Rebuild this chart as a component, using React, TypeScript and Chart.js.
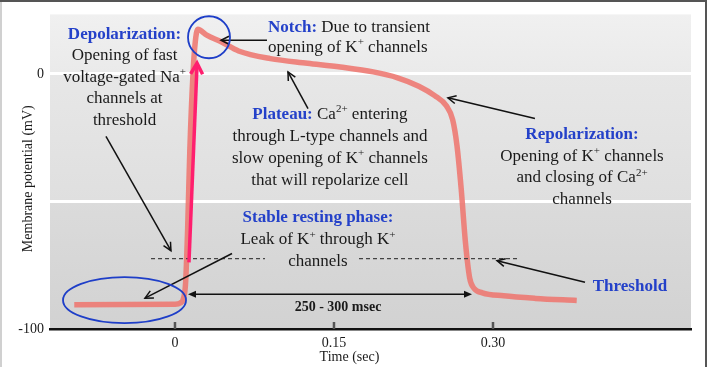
import React, { useEffect, useRef } from "react";
import { Chart, registerables } from "chart.js";

Chart.register(...registerables);

// ---------- data ----------
const timeSec = [
  -0.095, 0.0, 0.005, 0.008, 0.01, 0.012, 0.014, 0.017, 0.019, 0.0215, 0.03, 0.044, 0.06, 0.09, 0.125,
  0.156, 0.187, 0.21, 0.23, 0.245, 0.256, 0.262, 0.266, 0.27, 0.274, 0.278, 0.282, 0.29, 0.31, 0.34, 0.379,
];
const potentialMv = [
  -90.5, -90.3, -89.8, -88, -82, -60, -30, 0, 12, 17.5, 15.2, 12.5, 9, 6, 4.2,
  2.7, 0.8, -1.5, -4.8, -8.5, -12.5, -18, -28, -45, -66, -80, -84, -85.8, -87, -88, -88.8,
];
const xTickValues = [0, 0.15, 0.3];
const xTickLabels = ["0", "0.15", "0.30"];
const yTickValues = [-100, -50, 0];
const yTickLabels = ["-100", "", "0"];
const xRange = [-0.1179, 0.4868];
const yRange = [-100, 23.35];
const xAxisTitle = "Time (sec)";
const yAxisTitle = "Membrane potential (mV)";
const thresholdMv = -72.4;
const restingDurationLabel = "250 - 300 msec";

// ---------- styles ----------
const FONT = '"Liberation Serif", "Times New Roman", serif';
const BLUE = "#2441c9";
const TEXT = "#1a1a1a";

type Seg = { t: string; b?: boolean; sup?: boolean; blue?: boolean };
type Note = { at: [number, number]; align: "center" | "left"; lh: number; size: number; lines: Seg[][] };

const notes: Note[] = [
  {
    at: [-0.0476, 15.56], align: "center", lh: 21.5, size: 17,
    lines: [
      [{ t: "Depolarization:", b: true, blue: true }],
      [{ t: "Opening of fast" }],
      [{ t: "voltage-gated Na" }, { t: "+", sup: true }],
      [{ t: "channels at" }],
      [{ t: "threshold" }],
    ],
  },
  {
    at: [0.0877, 18.3], align: "left", lh: 20, size: 17,
    lines: [
      [{ t: "Notch:", b: true, blue: true }, { t: " Due to transient" }],
      [{ t: "opening of K" }, { t: "+", sup: true }, { t: " channels" }],
    ],
  },
  {
    at: [0.1462, -15.95], align: "center", lh: 22, size: 17,
    lines: [
      [{ t: "Plateau:", b: true, blue: true }, { t: " Ca" }, { t: "2+", sup: true }, { t: " entering" }],
      [{ t: "through L-type channels and" }],
      [{ t: "slow opening of K" }, { t: "+", sup: true }, { t: " channels" }],
      [{ t: "that will repolarize cell" }],
    ],
  },
  {
    at: [0.384, -23.7], align: "center", lh: 21.7, size: 17,
    lines: [
      [{ t: "Repolarization:", b: true, blue: true }],
      [{ t: "Opening of K" }, { t: "+", sup: true }, { t: " channels" }],
      [{ t: "and closing of Ca" }, { t: "2+", sup: true }],
      [{ t: "channels" }],
    ],
  },
  {
    at: [0.1349, -56.4], align: "center", lh: 22, size: 17,
    lines: [
      [{ t: "Stable resting phase:", b: true, blue: true }],
      [{ t: "Leak of K" }, { t: "+", sup: true }, { t: " through K" }, { t: "+", sup: true }],
      [{ t: "channels" }],
    ],
  },
  {
    at: [0.4292, -83.3], align: "center", lh: 20, size: 17,
    lines: [[{ t: "Threshold", b: true, blue: true }]],
  },
  {
    at: [0.1538, -91.4], align: "center", lh: 16, size: 14,
    lines: [[{ t: restingDurationLabel, b: true }]],
  },
];

// arrows: from -> to (data coords)
const pointerArrows: [number, number, number, number][] = [
  [-0.0651, -24.5, -0.0038, -69.3],
  [0.0868, 13.2, 0.0434, 13.2],
  [0.1255, -13.6, 0.1066, 0.78],
  [0.3396, -17.5, 0.2575, -9.34],
  [0.0538, -70.4, -0.0283, -87.9],
  [0.3868, -81.7, 0.3038, -73.2],
];
const durationArrow: [number, number, number] = [0.0123, 0.2802, -86.4];
const upstrokeArrow: [number, number, number, number] = [0.0132, -73.9, 0.0208, 4.28];
const thresholdSegments: [number, number][] = [
  [-0.0226, 0.0849],
  [0.1736, 0.3245],
];
const ellipses: { c: [number, number]; rx: number; ry: number }[] = [
  { c: [0.0321, 14.4], rx: 21, ry: 21 },
  { c: [-0.0476, -88.7], rx: 61.5, ry: 23 },
];

function drawRich(ctx: CanvasRenderingContext2D, line: Seg[], x: number, y: number, align: string, size: number) {
  const parts = line.map((s) => {
    const fs = s.sup ? Math.round(size * 0.66) : size;
    const font = `${s.b ? "bold " : ""}${fs}px ${FONT}`;
    ctx.font = font;
    return { s, font, w: ctx.measureText(s.t).width };
  });
  const total = parts.reduce((a, p) => a + p.w, 0);
  let cx = align === "center" ? x - total / 2 : x;
  ctx.textBaseline = "middle";
  ctx.textAlign = "left";
  for (const p of parts) {
    ctx.font = p.font;
    ctx.fillStyle = p.s.blue ? BLUE : TEXT;
    ctx.fillText(p.s.t, cx, p.s.sup ? y - size * 0.3 : y);
    cx += p.w;
  }
}

function arrowHead(ctx: CanvasRenderingContext2D, x1: number, y1: number, x2: number, y2: number, len: number, spread: number, filled: boolean) {
  const a = Math.atan2(y2 - y1, x2 - x1);
  const bx = x2 - len * Math.cos(a);
  const by = y2 - len * Math.sin(a);
  const px = spread * Math.sin(a);
  const py = -spread * Math.cos(a);
  ctx.beginPath();
  ctx.moveTo(bx + px, by + py);
  ctx.lineTo(x2, y2);
  ctx.lineTo(bx - px, by - py);
  if (filled) {
    ctx.closePath();
    ctx.fill();
  } else {
    ctx.stroke();
  }
}

const backgroundPlugin = {
  id: "bands",
  beforeDraw(chart: any) {
    const { ctx, chartArea: ca, scales } = chart;
    const ys = scales.y;
    ctx.save();
    ctx.fillStyle = "#ffffff";
    ctx.fillRect(0, 0, chart.width, chart.height);
    const y0 = ys.getPixelForValue(0);
    const y50 = ys.getPixelForValue(-50);
    const bands: [number, number, string, string][] = [
      [ca.top, y0, "#f0f0f0", "#eaeaea"],
      [y0, y50, "#e7e7e7", "#dfdfdf"],
      [y50, ca.bottom, "#dbdbdb", "#d2d2d2"],
    ];
    for (const [a, b, c1, c2] of bands) {
      const g = ctx.createLinearGradient(0, a, 0, b);
      g.addColorStop(0, c1);
      g.addColorStop(1, c2);
      ctx.fillStyle = g;
      ctx.fillRect(ca.left, a, ca.right - ca.left, b - a);
    }
    ctx.restore();
  },
  afterDatasetsDraw(chart: any) {
    const { ctx, chartArea: ca, scales } = chart;
    const xs = scales.x;
    const ys = scales.y;
    const P = (t: number, v: number) => [xs.getPixelForValue(t), ys.getPixelForValue(v)];
    ctx.save();

    // upward tick marks on x axis
    ctx.fillStyle = "#555";
    for (const v of xTickValues) {
      const px = xs.getPixelForValue(v);
      ctx.fillRect(px - 1.25, ca.bottom - 7, 2.5, 7);
    }

    // threshold dashed line
    ctx.strokeStyle = "#444";
    ctx.lineWidth = 1.2;
    ctx.setLineDash([4, 3]);
    const ty = ys.getPixelForValue(thresholdMv);
    for (const [a, b] of thresholdSegments) {
      ctx.beginPath();
      ctx.moveTo(xs.getPixelForValue(a), ty);
      ctx.lineTo(xs.getPixelForValue(b), ty);
      ctx.stroke();
    }
    ctx.setLineDash([]);

    // upstroke pink arrow
    {
      const [x1, y1] = P(upstrokeArrow[0], upstrokeArrow[1]);
      const [x2, y2] = P(upstrokeArrow[2], upstrokeArrow[3]);
      ctx.strokeStyle = "#ff1f6e";
      ctx.lineWidth = 3.5;
      ctx.lineCap = "butt";
      ctx.beginPath();
      ctx.moveTo(x1, y1);
      ctx.lineTo(x2, y2 + 2);
      ctx.stroke();
      ctx.lineJoin = "miter";
      arrowHead(ctx, x1, y1, x2, y2, 11, 6, false);
    }

    // pointer arrows
    ctx.strokeStyle = "#111";
    ctx.fillStyle = "#111";
    ctx.lineWidth = 1.5;
    for (const [t1, v1, t2, v2] of pointerArrows) {
      const [x1, y1] = P(t1, v1);
      const [x2, y2] = P(t2, v2);
      ctx.beginPath();
      ctx.moveTo(x1, y1);
      ctx.lineTo(x2, y2);
      ctx.stroke();
      arrowHead(ctx, x1, y1, x2, y2, 8, 4, false);
    }

    // duration double arrow
    {
      const [xa, yy] = P(durationArrow[0], durationArrow[2]);
      const [xb] = P(durationArrow[1], durationArrow[2]);
      ctx.lineWidth = 1.5;
      ctx.beginPath();
      ctx.moveTo(xa + 4, yy);
      ctx.lineTo(xb - 4, yy);
      ctx.stroke();
      arrowHead(ctx, xb, yy, xa, yy, 8, 3.5, true);
      arrowHead(ctx, xa, yy, xb, yy, 8, 3.5, true);
    }

    // ellipses
    ctx.strokeStyle = "#1e3ec8";
    ctx.lineWidth = 1.8;
    for (const e of ellipses) {
      const [cx, cy] = P(e.c[0], e.c[1]);
      ctx.beginPath();
      ctx.ellipse(cx, cy, e.rx, e.ry, 0, 0, Math.PI * 2);
      ctx.stroke();
    }

    // text notes
    for (const n of notes) {
      const [x, y] = P(n.at[0], n.at[1]);
      n.lines.forEach((line, i) => drawRich(ctx, line, x, y + i * n.lh, n.align, n.size));
    }

    ctx.restore();
  },
  afterDraw(chart: any) {
    const { ctx, chartArea: ca } = chart;
    ctx.save();
    // axis titles
    ctx.fillStyle = TEXT;
    ctx.font = `14px ${FONT}`;
    ctx.textAlign = "center";
    ctx.textBaseline = "middle";
    ctx.fillText(xAxisTitle, (ca.left + ca.right) / 2 - 21, 357);
    ctx.translate(28.5, (ca.top + ca.bottom) / 2 + 7);
    ctx.rotate(-Math.PI / 2);
    ctx.fillText(yAxisTitle, 0, 0);
    ctx.restore();
    // frame
    ctx.save();
    ctx.fillStyle = "#d0d0d0";
    ctx.fillRect(0, 0, 2, chart.height);
    ctx.fillStyle = "#555";
    ctx.fillRect(0, 0, chart.width, 2);
    ctx.fillRect(chart.width - 2, 0, 2, chart.height);
    ctx.restore();
  },
};

export default function App() {
  const ref = useRef<HTMLCanvasElement>(null);
  useEffect(() => {
    const chart = new Chart(ref.current as HTMLCanvasElement, {
      type: "line",
      data: {
        datasets: [
          {
            data: timeSec.map((t, i) => ({ x: t, y: potentialMv[i] })),
            borderColor: "rgba(238,118,112,0.88)",
            borderWidth: 5.5,
            pointRadius: 0,
            fill: false,
            cubicInterpolationMode: "monotone",
            borderCapStyle: "butt",
            borderJoinStyle: "round",
          },
        ],
      },
      options: {
        responsive: false,
        devicePixelRatio: 1,
        animation: false,
        layout: { padding: { top: 12, right: 16, left: 0, bottom: 0 } },
        plugins: { legend: { display: false }, tooltip: { enabled: false }, title: { display: false } },
        scales: {
          x: {
            type: "linear",
            min: xRange[0],
            max: xRange[1],
            afterBuildTicks: (s: any) => {
              s.ticks = xTickValues.map((v) => ({ value: v }));
            },
            afterFit: (s: any) => {
              s.height = 38;
            },
            ticks: {
              autoSkip: false,
              maxRotation: 0,
              padding: 6,
              color: TEXT,
              font: { family: FONT, size: 14 },
              callback: (v: any) => {
                const i = xTickValues.findIndex((x) => Math.abs(x - v) < 1e-9);
                return i >= 0 ? xTickLabels[i] : "";
              },
            },
            grid: { display: false, drawTicks: false },
            border: { display: true, color: "#111", width: 2.5 },
          },
          y: {
            type: "linear",
            min: yRange[0],
            max: yRange[1],
            afterBuildTicks: (s: any) => {
              s.ticks = yTickValues.map((v) => ({ value: v }));
            },
            afterFit: (s: any) => {
              s.width = 50;
            },
            ticks: {
              autoSkip: false,
              padding: 6,
              color: TEXT,
              font: { family: FONT, size: 14 },
              callback: (v: any) => {
                const i = yTickValues.findIndex((x) => Math.abs(x - v) < 1e-9);
                return i >= 0 ? yTickLabels[i] : "";
              },
            },
            grid: {
              drawTicks: false,
              lineWidth: 3,
              color: (c: any) => (c.tick && c.tick.value === -100 ? "rgba(0,0,0,0)" : "#ffffff"),
            },
            border: { display: false },
          },
        },
      },
      plugins: [backgroundPlugin],
    } as any);
    return () => chart.destroy();
  }, []);
  return (
    <div style={{ position: "absolute", left: 0, top: 0, width: 707, height: 367, background: "#fff" }}>
      <canvas ref={ref} width={707} height={367} style={{ display: "block", width: 707, height: 367 }} />
    </div>
  );
}
